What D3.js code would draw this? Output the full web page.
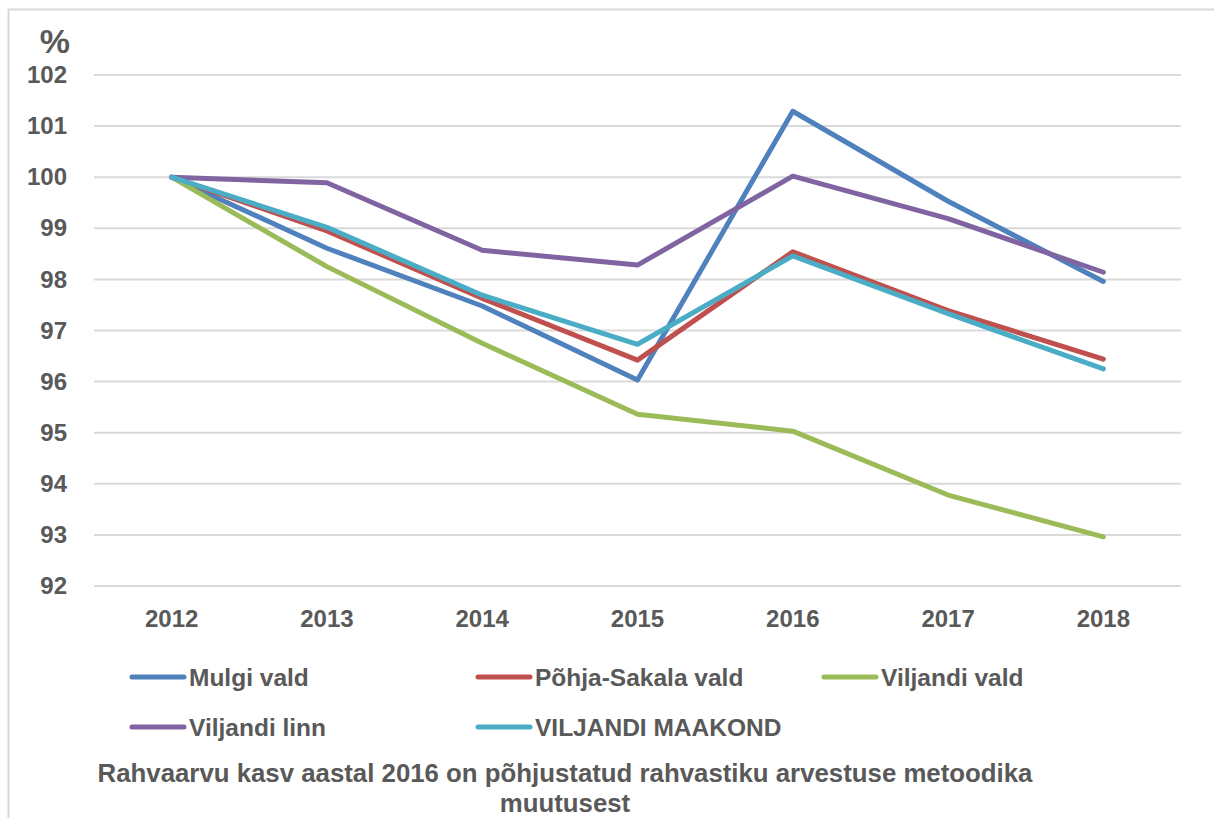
<!DOCTYPE html>
<html>
<head>
<meta charset="utf-8">
<script src="https://cdn.jsdelivr.net/npm/d3@7"></script>
<style>
  body { margin: 0; background: #fff; }
  text { font-family: "Liberation Sans", Arial, sans-serif; font-weight: bold; fill: #595959; }
</style>
</head>
<body>
<div class="chart"></div>
<script>
// data
var years = ['2012', '2013', '2014', '2015', '2016', '2017', '2018'];
var mulgi = [100, 98.61, 97.48, 96.03, 101.29, 99.53, 97.96];
var pohjaSakala = [100, 98.95, 97.63, 96.42, 98.54, 97.39, 96.44];
var viljandiVald = [100, 98.25, 96.75, 95.36, 95.03, 93.78, 92.96];
var viljandiLinn = [100, 99.89, 98.57, 98.28, 100.02, 99.19, 98.14];
var maakond = [100, 99.02, 97.69, 96.73, 98.46, 97.33, 96.25];
var seriesNames = ['Mulgi vald', 'Põhja-Sakala vald', 'Viljandi vald', 'Viljandi linn', 'VILJANDI MAAKOND'];
var yTicks = [92, 93, 94, 95, 96, 97, 98, 99, 100, 101, 102];
var note = ['Rahvaarvu kasv aastal 2016 on põhjustatud rahvastiku arvestuse metoodika', 'muutusest'];

var seriesValues = [mulgi, pohjaSakala, viljandiVald, viljandiLinn, maakond];
var colors = ['#4F81BD', '#C0504D', '#9BBB59', '#8064A2', '#4BACC6'];

var svg = d3.select('.chart').append('svg')
            .attr('width', 1214)
            .attr('height', 818);

// outer chart border (only left/top visible in crop)
svg.append('path')
    .attr('d', 'M8.5,818 L8.5,9.5 L1214,9.5')
    .attr('fill', 'none')
    .attr('stroke', '#D9D9D9')
    .attr('stroke-width', 2);

var x = d3.scaleBand().domain(years).range([94, 1181]);
var y = d3.scaleLinear().domain([92, 102]).range([586, 75]);

// gridlines
svg.append('g').selectAll('line')
    .data(yTicks)
    .enter().append('line')
      .attr('x1', 94).attr('x2', 1181)
      .attr('y1', function(d){ return y(d); })
      .attr('y2', function(d){ return y(d); })
      .attr('stroke', '#D9D9D9')
      .attr('stroke-width', 2);

// y axis labels
var yAxis = svg.append('g')
    .attr('transform', 'translate(76,0)')
    .call(d3.axisLeft(y).tickValues(yTicks).tickSize(0).tickPadding(9));
yAxis.select('.domain').remove();
yAxis.selectAll('text')
    .attr('font-size', 24)
    .attr('font-family', null);

svg.append('text')
    .attr('x', 70).attr('y', 53)
    .attr('text-anchor', 'end')
    .attr('font-size', 34)
    .text('%');

// x axis labels
var xAxis = svg.append('g')
    .attr('transform', 'translate(0,600)')
    .call(d3.axisBottom(x).tickSize(0).tickPadding(10));
xAxis.select('.domain').remove();
xAxis.selectAll('text')
    .attr('font-size', 24)
    .attr('font-family', null);

// lines
var line = d3.line()
    .x(function(d, i){ return x(years[i]) + x.bandwidth() / 2; })
    .y(function(d){ return y(d); });

svg.append('g').selectAll('path')
    .data(seriesValues)
    .enter().append('path')
      .attr('d', line)
      .attr('fill', 'none')
      .attr('stroke', function(d, i){ return colors[i]; })
      .attr('stroke-width', 5)
      .attr('stroke-linejoin', 'round')
      .attr('stroke-linecap', 'round');

// legend
var legend = svg.append('g').selectAll('g')
    .data(seriesNames)
    .enter().append('g')
      .attr('transform', function(d, i){ return 'translate(' + (130 + (i % 3) * 346) + ',' + (677 + Math.floor(i / 3) * 50) + ')'; });

legend.append('line')
    .attr('x1', 2).attr('x2', 54)
    .attr('stroke', function(d, i){ return colors[i]; })
    .attr('stroke-width', 5)
    .attr('stroke-linecap', 'round');

legend.append('text')
    .attr('x', 59).attr('y', 9)
    .attr('font-size', 24.5)
    .text(function(d){ return d; });

// footnote
svg.append('g').selectAll('text')
    .data(note)
    .enter().append('text')
      .attr('x', 565)
      .attr('y', function(d, i){ return 782 + i * 30; })
      .attr('text-anchor', 'middle')
      .attr('font-size', 25.8)
      .text(function(d){ return d; });
</script>
</body>
</html>
